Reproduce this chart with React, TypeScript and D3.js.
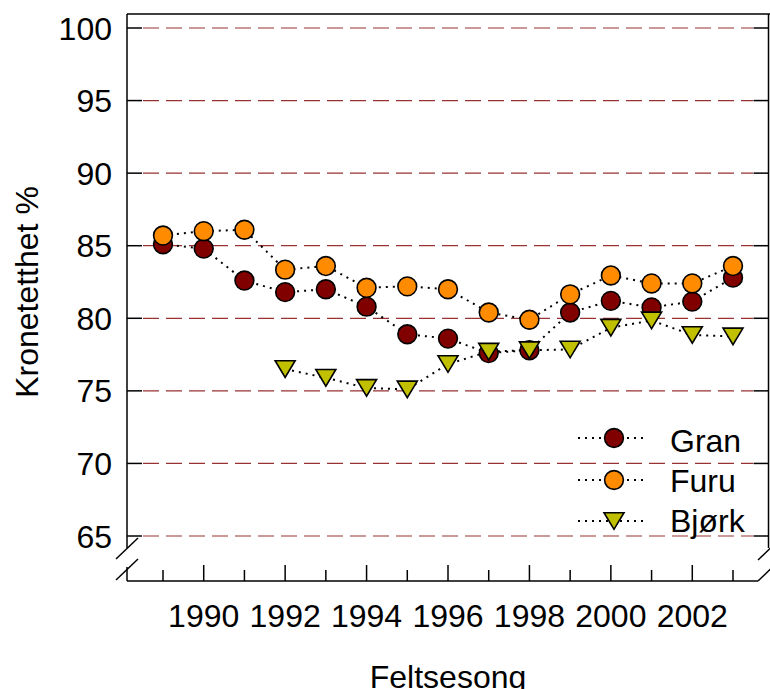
import React from "react";
import * as d3 from "d3";

const years = [1989, 1990, 1991, 1992, 1993, 1994, 1995, 1996, 1997, 1998, 1999, 2000, 2001, 2002, 2003];
const gran = [85.1, 84.8, 82.6, 81.8, 82.0, 80.8, 78.9, 78.6, 77.6, 77.8, 80.4, 81.2, 80.75, 81.15, 82.8];
const furu = [85.7, 86.0, 86.1, 83.35, 83.6, 82.1, 82.2, 82.0, 80.4, 79.9, 81.65, 82.95, 82.4, 82.4, 83.6];
const bjorkYears = [1992, 1993, 1994, 1995, 1996, 1997, 1998, 1999, 2000, 2001, 2002, 2003];
const bjork = [76.5, 75.9, 75.2, 75.1, 76.85, 77.7, 77.8, 77.85, 79.35, 79.85, 78.85, 78.75];
const yTicks = [65, 70, 75, 80, 85, 90, 95, 100];
const xLabelTicks = [1990, 1992, 1994, 1996, 1998, 2000, 2002];
const seriesNames = ["Gran", "Furu", "Bjørk"];
const seriesColors = ["#800000", "#ff8c00", "#c0c000"];

const FONT = "'Liberation Sans', Arial, Helvetica, sans-serif";

export default function App() {
  const W = 770, H = 689;
  const left = 127, right = 768.5, top = 14, bottom = 581;
  const x = d3.scaleLinear().domain([1989, 2003]).range([163, 733]);
  const y = d3.scaleLinear().domain([65, 100]).range([536, 28]);

  const line = d3.line<[number, number]>().x(d => x(d[0])).y(d => y(d[1]));
  const granPts: [number, number][] = years.map((yr, i) => [yr, gran[i]]);
  const furuPts: [number, number][] = years.map((yr, i) => [yr, furu[i]]);
  const bjorkPts: [number, number][] = bjorkYears.map((yr, i) => [yr, bjork[i]]);

  const tri = (cx: number, cy: number) =>
    `M${cx - 10},${cy - 8.3}L${cx + 10},${cy - 8.3}L${cx},${cy + 8.3}Z`;

  const dotted = { stroke: "#000", strokeWidth: 2, strokeDasharray: "2 5", fill: "none" };
  const markerStroke = { stroke: "#000", strokeWidth: 1.6 };

  const allTicks = d3.range(1989, 2004);
  const breakY1 = 548, breakY2 = 567;

  const legendRows = [438, 480, 521];
  const legendBase = [452, 492, 532];

  return (
    <svg width={W} height={H} style={{ position: "absolute", left: 0, top: 0, background: "#fff" }}
      fontFamily={FONT}>
      {/* gridlines */}
      {yTicks.map(t => (
        <line key={"g" + t} x1={143} x2={753} y1={y(t)} y2={y(t)}
          stroke="#8e1c1c" strokeWidth={1.2} strokeDasharray="16 7" opacity={0.9} />
      ))}
      {/* frame */}
      <line x1={left} x2={W} y1={top} y2={top} stroke="#000" strokeWidth={1.5} />
      <line x1={left} x2={left} y1={top} y2={breakY1} stroke="#000" strokeWidth={1.5} />
      <line x1={left} x2={left} y1={breakY2} y2={bottom} stroke="#000" strokeWidth={1.5} />
      <line x1={right} x2={right} y1={top} y2={breakY1} stroke="#000" strokeWidth={1.5} />
      <line x1={left} x2={758} y1={bottom} y2={bottom} stroke="#000" strokeWidth={1.5} />
      {/* break marks */}
      <line x1={116} y1={559} x2={138} y2={538} stroke="#000" strokeWidth={1.5} />
      <line x1={116} y1={580} x2={138} y2={559} stroke="#000" strokeWidth={1.5} />
      <line x1={758} y1={560} x2={780} y2={539} stroke="#000" strokeWidth={1.5} />
      <line x1={758} y1={581} x2={780} y2={560} stroke="#000" strokeWidth={1.5} />
      {/* y ticks */}
      {yTicks.map(t => (
        <g key={"yt" + t}>
          <line x1={left} x2={left + 15} y1={y(t)} y2={y(t)} stroke="#000" strokeWidth={1.5} />
          <line x1={right - 15} x2={right} y1={y(t)} y2={y(t)} stroke="#000" strokeWidth={1.5} />
          <text x={112} y={y(t)} dy="0.36em" textAnchor="end" fontSize={32}>{t}</text>
        </g>
      ))}
      {/* x ticks */}
      {allTicks.map(t => (
        <line key={"xt" + t} x1={x(t)} x2={x(t)} y1={bottom} y2={bottom - (t % 2 === 0 ? 16 : 11)}
          stroke="#000" strokeWidth={1.5} />
      ))}
      {xLabelTicks.map(t => (
        <text key={"xl" + t} x={x(t)} y={627} textAnchor="middle" fontSize={32}>{t}</text>
      ))}
      {/* axis titles */}
      <text x={448} y={688} textAnchor="middle" fontSize={32}>Feltsesong</text>
      <text transform="translate(38,292) rotate(-90)" textAnchor="middle" fontSize={32}>Kronetetthet %</text>

      {/* series */}
      <path d={line(granPts) || ""} {...dotted} />
      {granPts.map((p, i) => (
        <circle key={"gc" + i} cx={x(p[0])} cy={y(p[1])} r={9.4} fill={seriesColors[0]} {...markerStroke} />
      ))}
      <path d={line(furuPts) || ""} {...dotted} />
      {furuPts.map((p, i) => (
        <circle key={"fc" + i} cx={x(p[0])} cy={y(p[1])} r={9.4} fill={seriesColors[1]} {...markerStroke} />
      ))}
      <path d={line(bjorkPts) || ""} {...dotted} />
      {bjorkPts.map((p, i) => (
        <path key={"bt" + i} d={tri(x(p[0]), y(p[1]))} fill={seriesColors[2]} {...markerStroke} strokeLinejoin="miter" />
      ))}

      {/* legend */}
      {seriesNames.map((name, i) => (
        <g key={"lg" + i}>
          <line x1={578} x2={646} y1={legendRows[i]} y2={legendRows[i]} {...dotted} />
          {i < 2 ? (
            <circle cx={614} cy={legendRows[i]} r={9.4} fill={seriesColors[i]} {...markerStroke} />
          ) : (
            <path d={tri(614, legendRows[i])} fill={seriesColors[i]} {...markerStroke} />
          )}
          <text x={670} y={legendBase[i]} fontSize={32}>{name}</text>
        </g>
      ))}
    </svg>
  );
}
